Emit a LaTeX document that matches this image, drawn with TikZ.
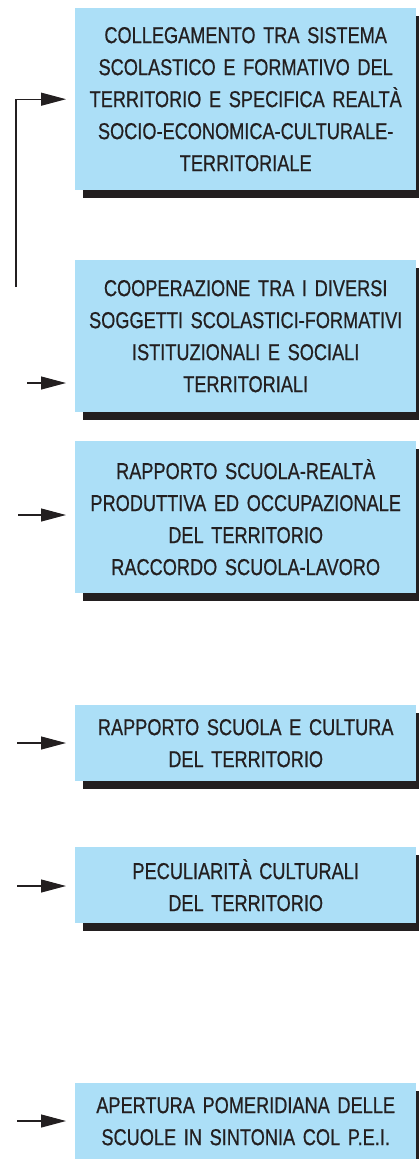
\documentclass[tikz,border=0pt]{standalone}
\usepackage{fontspec}
\setmainfont{Liberation Sans}[FakeStretch=0.79,FakeBold=0.6]
\usetikzlibrary{arrows.meta,shadows}
\definecolor{boxblue}{RGB}{172,223,247}
\definecolor{ink}{RGB}{35,31,32}

\begin{document}
\begin{tikzpicture}[x=1pt,y=-1pt,
    box/.style={anchor=north west, fill=boxblue, text=ink, inner sep=0pt,
      minimum width=341pt, text width=335pt, align=center,
      font=\fontsize{23}{32}\selectfont,
      general shadow={fill=ink, shadow xshift=8pt, shadow yshift=-8pt}},
    arr/.style={-{Triangle[length=25pt,width=13pt]}, draw=ink, line width=1.1pt, shorten >=9pt}]
  \useasboundingbox (0,0) rectangle (418,1159);

  % boxes
  \node[box, minimum height=182pt] (b1) at (75,8) {COLLEGAMENTO TRA SISTEMA\\ SCOLASTICO E FORMATIVO DEL\\ TERRITORIO E SPECIFICA REALTÀ\\ SOCIO-ECONOMICA-CULTURALE-\\ TERRITORIALE};
  \node[box, minimum height=152pt] (b2) at (75,260) {COOPERAZIONE TRA I DIVERSI\\ SOGGETTI SCOLASTICI-FORMATIVI\\ ISTITUZIONALI E SOCIALI\\ TERRITORIALI};
  \node[box, minimum height=152pt] (b3) at (75,441) {RAPPORTO SCUOLA-REALTÀ\\ PRODUTTIVA ED OCCUPAZIONALE\\ DEL TERRITORIO\\ RACCORDO SCUOLA-LAVORO};
  \node[box, minimum height=76pt] (b4) at (75,705) {RAPPORTO SCUOLA E CULTURA\\ DEL TERRITORIO};
  \node[box, minimum height=76pt] (b5) at (75,847) {PECULIARITÀ CULTURALI\\ DEL TERRITORIO};
  \node[box, minimum height=76pt] (b6) at (75,1083) {APERTURA POMERIDIANA DELLE\\ SCUOLE IN SINTONIA COL P.E.I.};

  % arrows
  \coordinate (s1) at (16,287);
  \coordinate (s2) at (27,383);
  \coordinate (s3) at (18,515);
  \coordinate (s4) at (17,743);
  \coordinate (s5) at (17,886);
  \coordinate (s6) at (17,1121);
  \draw[arr] (s1) |- (b1.west);
  \draw[arr] (s2) -- (s2 -| b2.west);
  \foreach \i in {3,4,5,6}
    \draw[arr] (s\i) -- (s\i -| b\i.west);
\end{tikzpicture}
\end{document}
